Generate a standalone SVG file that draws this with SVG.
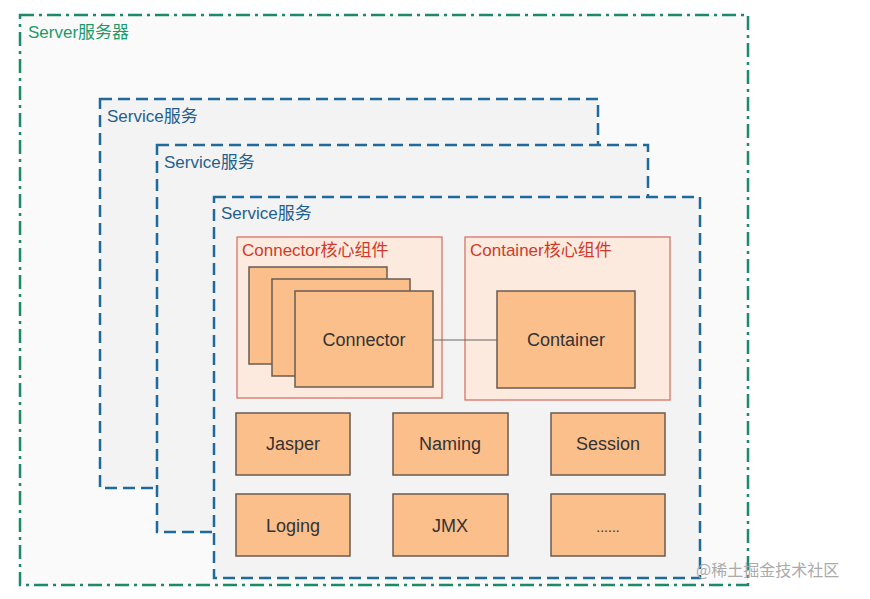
<svg xmlns="http://www.w3.org/2000/svg" width="870" height="599" viewBox="0 0 870 599">
<style>
.svc{fill:#f3f3f3;stroke:#1f6a9a;stroke-width:2.5;stroke-dasharray:12,6}
.st{font-family:"Liberation Sans","Noto Sans CJK SC",sans-serif;font-size:17px;fill:#1f5f8f}
.grp{fill:#fdeadf;stroke:#d46a5a;stroke-width:1.2}
.gt{font-family:"Liberation Sans","Noto Sans CJK SC",sans-serif;font-size:17px;fill:#d03a2a}
.box{fill:#fbbf8c;stroke:#6b5b50;stroke-width:1.5}
.bt{font-family:"Liberation Sans",sans-serif;font-size:18px;fill:#333;text-anchor:middle}
</style>
<rect width="870" height="599" fill="#fff"/>
<g id="server">
<rect x="20" y="15" width="728" height="570" fill="#fafafa" stroke="#1a8a6a" stroke-width="2.5" stroke-dasharray="14,5,3,5"/>
<text x="28" y="38" class="st" style="fill:#1a9a6a">Server服务器</text>
</g>
<g id="service1"><rect x="100" y="99" width="498" height="389" class="svc"/><text x="107" y="122" class="st">Service服务</text></g>
<g id="service2"><rect x="157" y="145" width="491" height="387" class="svc"/><text x="164" y="168" class="st">Service服务</text></g>
<g id="service3"><rect x="214" y="197" width="486" height="381" class="svc"/><text x="221" y="219" class="st">Service服务</text></g>
<g id="connector-group"><rect x="237" y="237" width="205" height="161" class="grp"/><text x="242" y="256" class="gt">Connector核心组件</text></g>
<g id="container-group"><rect x="465" y="237" width="205" height="163" class="grp"/><text x="470" y="256" class="gt">Container核心组件</text></g>
<g id="connectors">
<rect x="249" y="267" width="138" height="97" class="box"/>
<rect x="272" y="279" width="138" height="97" class="box"/>
<rect x="295" y="291" width="138" height="96" class="box"/>
<text x="364" y="346" class="bt">Connector</text>
</g>
<g id="container"><rect x="497" y="291" width="138" height="97" class="box"/><text x="566" y="346" class="bt">Container</text></g>
<g id="edges"><line x1="433" y1="340" x2="497" y2="340" stroke="#666" stroke-width="1.2"/></g>
<g id="jasper"><rect x="236" y="413" width="114" height="62" class="box"/><text x="293" y="450" class="bt">Jasper</text></g>
<g id="naming"><rect x="393" y="413" width="115" height="62" class="box"/><text x="450" y="450" class="bt">Naming</text></g>
<g id="session"><rect x="551" y="413" width="114" height="62" class="box"/><text x="608" y="450" class="bt">Session</text></g>
<g id="loging"><rect x="236" y="494" width="114" height="62" class="box"/><text x="293" y="532" class="bt">Loging</text></g>
<g id="jmx"><rect x="393" y="494" width="115" height="62" class="box"/><text x="450" y="532" class="bt">JMX</text></g>
<g id="more"><rect x="551" y="494" width="114" height="62" class="box"/><text x="608" y="532" class="bt" style="font-size:14px">......</text></g>
<text x="696" y="576" font-family="'Noto Sans CJK SC',sans-serif" font-size="16" fill="#aaa">@稀土掘金技术社区</text>
</svg>
